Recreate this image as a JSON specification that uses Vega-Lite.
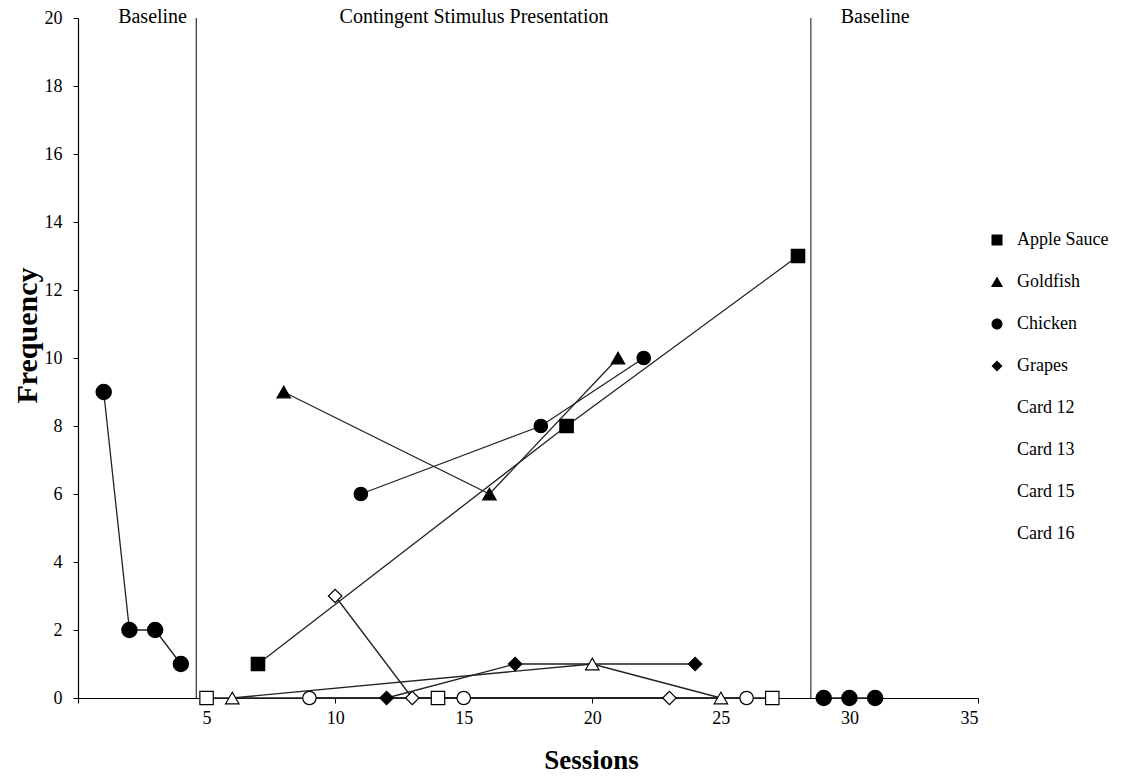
{
  "$schema": "https://vega.github.io/schema/vega-lite/v6.json",
  "width": 900,
  "height": 680,
  "autosize": {"type": "none"},
  "padding": {"left": 78, "top": 18, "right": 145, "bottom": 82},
  "background": "white",
  "config": {
    "view": {"stroke": null},
    "font": "Liberation Serif",
    "axis": {
      "grid": false,
      "domainColor": "black",
      "domainWidth": 1.2,
      "tickColor": "black",
      "tickSize": 5,
      "labelColor": "black",
      "labelFont": "Liberation Serif",
      "labelFontSize": 18,
      "titleColor": "black",
      "titleFont": "Liberation Serif",
      "titleFontWeight": "bold"
    },
    "legend": {
      "orient": "none",
      "legendX": 910,
      "legendY": 213,
      "padding": 0,
      "symbolSize": 121,
      "symbolOpacity": 1,
      "symbolStrokeColor": "black",
      "symbolStrokeWidth": 1.2,
      "labelFont": "Liberation Serif",
      "labelFontSize": 18,
      "labelColor": "black",
      "labelOffset": 11,
      "rowPadding": 24
    }
  },
  "datasets": {
    "pts": [
      {"session": 1, "freq": 9, "series": "Baseline", "grp": "BL1"},
      {"session": 2, "freq": 2, "series": "Baseline", "grp": "BL1"},
      {"session": 3, "freq": 2, "series": "Baseline", "grp": "BL1"},
      {"session": 4, "freq": 1, "series": "Baseline", "grp": "BL1"},
      {"session": 29, "freq": 0, "series": "Baseline", "grp": "BL2"},
      {"session": 30, "freq": 0, "series": "Baseline", "grp": "BL2"},
      {"session": 31, "freq": 0, "series": "Baseline", "grp": "BL2"},
      {"session": 7, "freq": 1, "series": "Apple Sauce", "grp": "Apple Sauce"},
      {"session": 19, "freq": 8, "series": "Apple Sauce", "grp": "Apple Sauce"},
      {"session": 28, "freq": 13, "series": "Apple Sauce", "grp": "Apple Sauce"},
      {"session": 8, "freq": 9, "series": "Goldfish", "grp": "Goldfish"},
      {"session": 16, "freq": 6, "series": "Goldfish", "grp": "Goldfish"},
      {"session": 21, "freq": 10, "series": "Goldfish", "grp": "Goldfish"},
      {"session": 11, "freq": 6, "series": "Chicken", "grp": "Chicken"},
      {"session": 18, "freq": 8, "series": "Chicken", "grp": "Chicken"},
      {"session": 22, "freq": 10, "series": "Chicken", "grp": "Chicken"},
      {"session": 12, "freq": 0, "series": "Grapes", "grp": "Grapes"},
      {"session": 17, "freq": 1, "series": "Grapes", "grp": "Grapes"},
      {"session": 24, "freq": 1, "series": "Grapes", "grp": "Grapes"},
      {"session": 5, "freq": 0, "series": "Card 12", "grp": "Card 12"},
      {"session": 14, "freq": 0, "series": "Card 12", "grp": "Card 12"},
      {"session": 27, "freq": 0, "series": "Card 12", "grp": "Card 12"},
      {"session": 6, "freq": 0, "series": "Card 13", "grp": "Card 13"},
      {"session": 20, "freq": 1, "series": "Card 13", "grp": "Card 13"},
      {"session": 25, "freq": 0, "series": "Card 13", "grp": "Card 13"},
      {"session": 9, "freq": 0, "series": "Card 15", "grp": "Card 15"},
      {"session": 15, "freq": 0, "series": "Card 15", "grp": "Card 15"},
      {"session": 26, "freq": 0, "series": "Card 15", "grp": "Card 15"},
      {"session": 10, "freq": 3, "series": "Card 16", "grp": "Card 16"},
      {"session": 13, "freq": 0, "series": "Card 16", "grp": "Card 16"},
      {"session": 23, "freq": 0, "series": "Card 16", "grp": "Card 16"}
    ],
    "phases": [{"x": 4.6}, {"x": 28.5}],
    "labels": [
      {"x": 2.9, "y": 20, "text": "Baseline"},
      {"x": 15.4, "y": 20, "text": "Contingent Stimulus Presentation"},
      {"x": 31.0, "y": 20, "text": "Baseline"}
    ]
  },
  "resolve": {"scale": {"shape": "independent", "fill": "independent", "size": "independent"}},
  "layer": [
    {
      "data": {"name": "phases"},
      "mark": {"type": "rule", "color": "#333333", "strokeWidth": 1.2},
      "encoding": {
        "x": {"field": "x", "type": "quantitative", "scale": {"domain": [0, 35], "nice": false}}
      }
    },
    {
      "data": {"name": "labels"},
      "mark": {"type": "text", "font": "Liberation Serif", "fontSize": 20, "color": "black", "baseline": "middle", "dy": -1},
      "encoding": {
        "x": {"field": "x", "type": "quantitative"},
        "y": {"field": "y", "type": "quantitative"},
        "text": {"field": "text"}
      }
    },
    {
      "data": {"name": "pts"},
      "mark": {"type": "line", "color": "#222222", "strokeWidth": 1.3},
      "encoding": {
        "x": {
          "field": "session", "type": "quantitative",
          "scale": {"domain": [0, 35], "nice": false},
          "axis": {
            "values": [0, 5, 10, 15, 20, 25, 30, 35],
            "labelExpr": "datum.value == 0 ? '' : datum.label",
            "title": "Sessions",
            "titleFontSize": 27,
            "titleX": 513,
            "titlePadding": 20,
            "labelPadding": 6
          }
        },
        "y": {
          "field": "freq", "type": "quantitative",
          "scale": {"domain": [0, 20], "nice": false},
          "axis": {
            "values": [0, 2, 4, 6, 8, 10, 12, 14, 16, 18, 20],
            "title": "Frequency",
            "titleFontSize": 30,
            "titleY": 317,
            "titlePadding": 2,
            "labelPadding": 11
          }
        },
        "detail": {"field": "grp"}
      }
    },
    {
      "data": {"name": "pts"},
      "transform": [{"filter": "datum.series == 'Baseline'"}],
      "mark": {"type": "point", "shape": "circle", "filled": true, "fill": "black", "stroke": "black", "size": 210, "opacity": 1},
      "encoding": {
        "x": {"field": "session", "type": "quantitative"},
        "y": {"field": "freq", "type": "quantitative"}
      }
    },
    {
      "data": {"name": "pts"},
      "transform": [{"filter": "datum.series != 'Baseline'"}],
      "mark": {"type": "point", "filled": true, "stroke": "black", "strokeWidth": 1.2, "opacity": 1},
      "encoding": {
        "x": {"field": "session", "type": "quantitative"},
        "y": {"field": "freq", "type": "quantitative"},
        "shape": {
          "field": "series", "type": "nominal",
          "scale": {
            "domain": ["Apple Sauce", "Goldfish", "Chicken", "Grapes", "Card 12", "Card 13", "Card 15", "Card 16"],
            "range": ["square", "triangle-up", "circle", "diamond", "square", "triangle-up", "circle", "diamond"]
          },
          "legend": null
        },
        "fill": {
          "field": "series", "type": "nominal",
          "scale": {
            "domain": ["Apple Sauce", "Goldfish", "Chicken", "Grapes", "Card 12", "Card 13", "Card 15", "Card 16"],
            "range": ["black", "black", "black", "black", "white", "white", "white", "white"]
          },
          "legend": null
        },
        "size": {
          "field": "series", "type": "nominal",
          "scale": {
            "domain": ["Card 16", "Card 15", "Card 13", "Card 12", "Grapes", "Chicken", "Goldfish", "Apple Sauce"],
            "range": [180, 180, 256, 160, 110, 130, 180, 121]
          },
          "legend": null
        }
      }
    },
    {
      "data": {"name": "pts"},
      "transform": [{"filter": "datum.series != 'Baseline'"}],
      "mark": {"type": "point", "filled": false, "color": "black", "stroke": "black", "strokeWidth": 1.2, "opacity": 0},
      "encoding": {
        "x": {"field": "session", "type": "quantitative"},
        "y": {"field": "freq", "type": "quantitative"},
        "shape": {
          "field": "series", "type": "nominal",
          "scale": {
            "domain": ["Apple Sauce", "Goldfish", "Chicken", "Grapes", "Card 12", "Card 13", "Card 15", "Card 16"],
            "range": [
              "M-2.9,0H-1M1,0H2.9M-1,-1H1V1H-1Z",
              "M-2.9,0H-0.58M0.58,0H2.9M0,-1L1.1,0.9H-1.1Z",
              "M-2.9,0H-1M1,0H2.9M-1,0A1,1,0,1,1,1,0A1,1,0,1,1,-1,0Z",
              "M-2.9,0H-1M1,0H2.9M0,-1L1,0L0,1L-1,0Z",
              "M-2.9,0H-1M1,0H2.9M-1,-1H1V1H-1Z",
              "M-2.9,0H-0.58M0.58,0H2.9M0,-1L1.1,0.9H-1.1Z",
              "M-2.9,0H-1M1,0H2.9M-1,0A1,1,0,1,1,1,0A1,1,0,1,1,-1,0Z",
              "M-2.9,0H-1M1,0H2.9M0,-1L1,0L0,1L-1,0Z"
            ]
          },
          "legend": {"title": null}
        },
        "fill": {
          "field": "series", "type": "nominal",
          "scale": {
            "domain": ["Apple Sauce", "Goldfish", "Chicken", "Grapes", "Card 12", "Card 13", "Card 15", "Card 16"],
            "range": ["black", "black", "black", "black", "white", "white", "white", "white"]
          },
          "legend": {"title": null}
        }
      }
    }
  ]
}
